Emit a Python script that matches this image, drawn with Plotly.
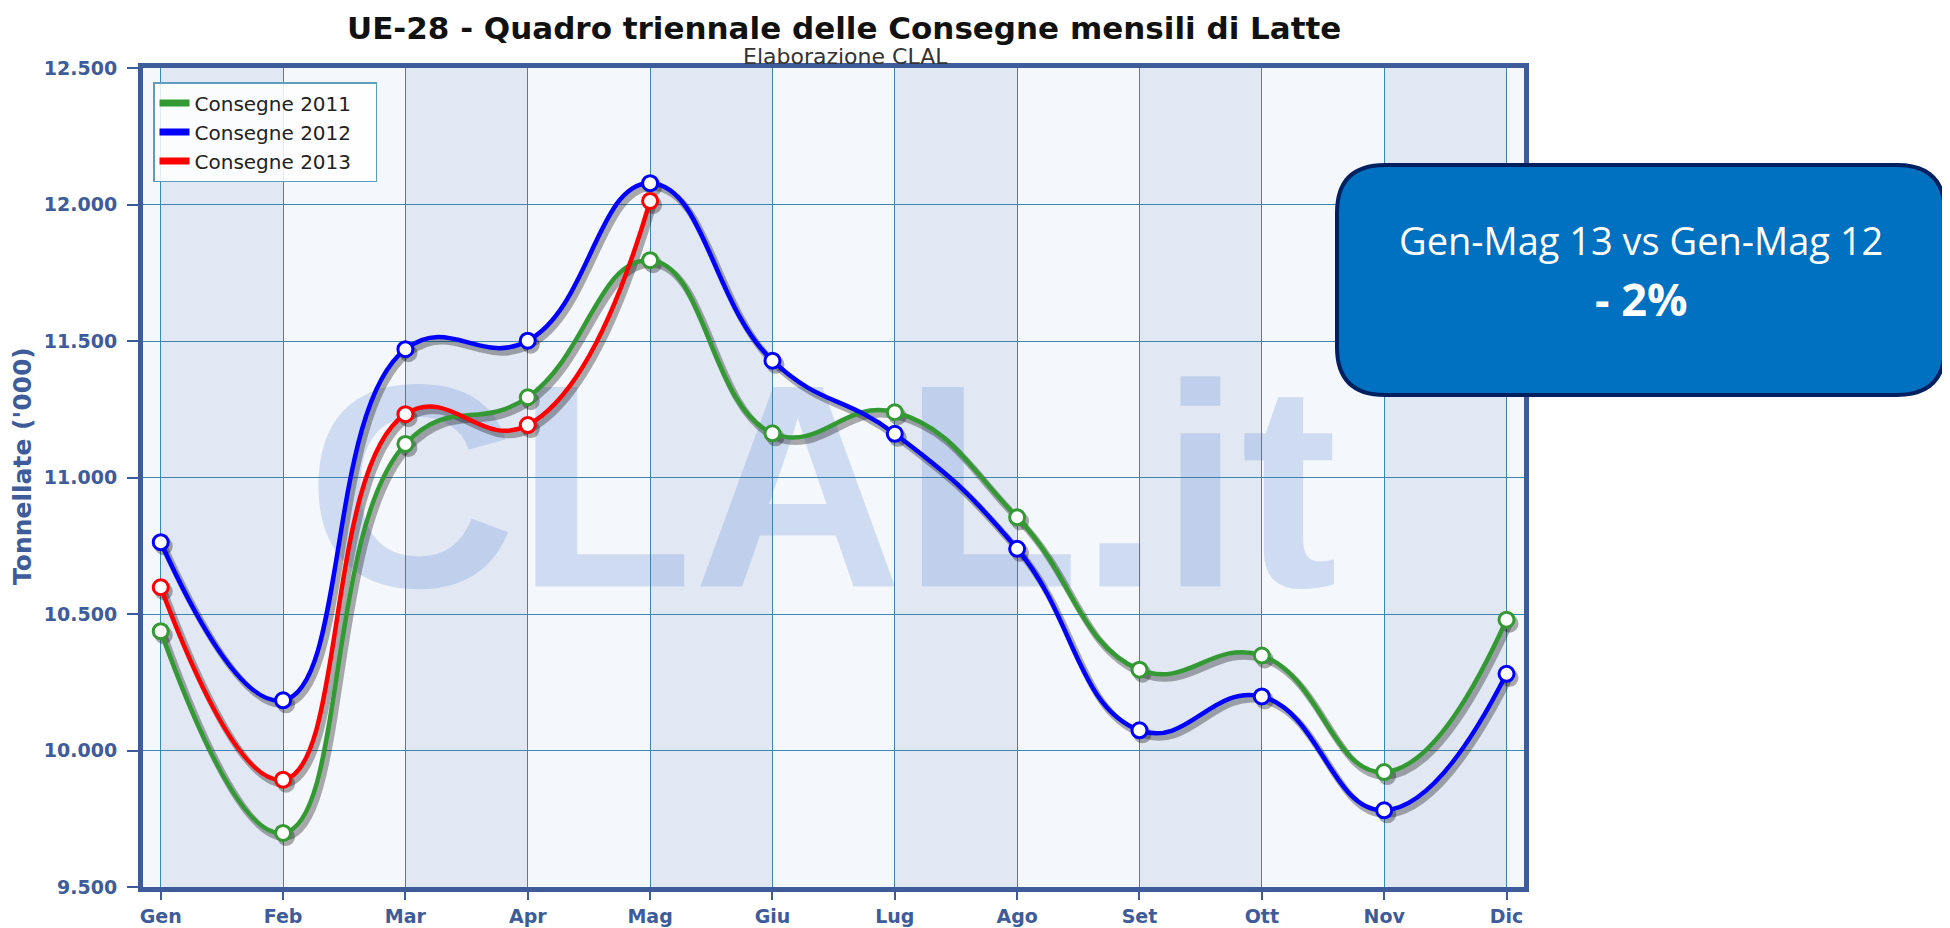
import plotly.graph_objects as go

# ---------------- data ----------------
months = ["Gen", "Feb", "Mar", "Apr", "Mag", "Giu", "Lug", "Ago", "Set", "Ott", "Nov", "Dic"]
consegne_2011 = [10437, 9698, 11123, 11294, 11796, 11162, 11239, 10854, 10296, 10348, 9921, 10479]
consegne_2012 = [10763, 10184, 11470, 11501, 12078, 11428, 11160, 10739, 10074, 10198, 9781, 10281]
consegne_2013 = [10598, 9893, 11232, 11192, 12013]
series_names = ["Consegne 2011", "Consegne 2012", "Consegne 2013"]
series_values = [consegne_2011, consegne_2012, consegne_2013]
series_colors = ["#339933", "#0000ff", "#ff0000"]
y_tickvals = [9500, 10000, 10500, 11000, 11500, 12000, 12500]
y_ticktext = ["9.500", "10.000", "10.500", "11.000", "11.500", "12.000", "12.500"]

title_text = "UE-28 - Quadro triennale delle Consegne mensili di Latte"
subtitle_text = "Elaborazione CLAL"
y_title = "Tonnellate ('000)"
box_line1 = "Gen-Mag 13 vs Gen-Mag 12"
box_line2 = "<b>- 2%</b>"

# ---------------- layout geometry ----------------
OFF = 8                      # page body margin of the html page
W, H = 1950 - OFF, 928 - OFF
PLOT_L, PLOT_R, PLOT_T, PLOT_B = 143, 1524, 68, 887   # target pixels on the page
L = PLOT_L - OFF
T = PLOT_T - OFF
R = W - (PLOT_R - OFF)
B = H - (PLOT_B - OFF)
PW, PH = W - L - R, H - T - B
XR = [-0.145, 11.143]
YR = [9500, 12500]

FRAME = "#3d5c99"
GRID = "#3b87ad"
DARK_BAND = "#e1e8f4"
LIGHT_BAND = "#f4f7fc"


def pxx(px):
    """page pixel x -> paper coordinate"""
    return (px - OFF - L) / PW


def pxy(py):
    """page pixel y -> paper coordinate"""
    return (H - B - (py - OFF)) / PH


# shadow offset (pixels) -> shifted axis ranges
SX, SY = 3, 4
dx = SX * (XR[1] - XR[0]) / PW
dy = SY * (YR[1] - YR[0]) / PH
XR2 = [XR[0] - dx, XR[1] - dx]
YR2 = [YR[0] + dy, YR[1] + dy]

SMOOTH = 1.3

fig = go.Figure()

# watermark (base axes, below everything)
fig.add_trace(go.Scatter(
    x=[pxx(822)], y=[pxy(514)], mode="text", text=["CLAL.it"],
    textposition="middle center",
    textfont=dict(family="Liberation Sans, sans-serif",
                  size=290, color="rgba(60,110,200,0.2)", weight="bold"),
    xaxis="x", yaxis="y", hoverinfo="skip", showlegend=False,
))

# shadows
for vals in series_values:
    fig.add_trace(go.Scatter(
        x=months[:len(vals)], y=vals, mode="lines+markers",
        line=dict(color="rgba(20,20,20,0.35)", width=7, shape="spline", smoothing=SMOOTH),
        marker=dict(size=18, color="rgba(20,20,20,0.35)", line=dict(width=0)),
        xaxis="x2", yaxis="y2", hoverinfo="skip", showlegend=False,
    ))

# main series
for name, vals, col in zip(series_names, series_values, series_colors):
    fig.add_trace(go.Scatter(
        x=months[:len(vals)], y=vals, mode="lines+markers", name=name,
        line=dict(color=col, width=4.5, shape="spline", smoothing=SMOOTH),
        marker=dict(size=15, color="white", line=dict(color=col, width=3)),
        xaxis="x3", yaxis="y3", showlegend=False,
    ))

# legend entries (bars)
for name, col in zip(series_names, series_colors):
    fig.add_trace(go.Scatter(
        x=[None], y=[None], mode="lines", name=name + "\u00a0\u00a0\u00a0",
        line=dict(color=col, width=7), xaxis="x3", yaxis="y3", showlegend=True,
    ))

# background bands
for i in range(0, len(months), 2):
    fig.add_shape(type="rect", xref="x3", yref="paper", x0=i, x1=i + 1, y0=0, y1=1,
                  fillcolor=DARK_BAND, line=dict(width=0), layer="below")

# rounded box
bx0, bx1, by0, by1, rr = 1337, 1945, 165, 395, 48


def P(px, py):
    return f"{pxx(px):.5f},{pxy(py):.5f}"


path = (f"M {P(bx0 + rr, by0)} L {P(bx1 - rr, by0)} Q {P(bx1, by0)} {P(bx1, by0 + rr)} "
        f"L {P(bx1, by1 - rr)} Q {P(bx1, by1)} {P(bx1 - rr, by1)} "
        f"L {P(bx0 + rr, by1)} Q {P(bx0, by1)} {P(bx0, by1 - rr)} "
        f"L {P(bx0, by0 + rr)} Q {P(bx0, by0)} {P(bx0 + rr, by0)} Z")
fig.add_shape(type="path", xref="paper", yref="paper", path=path,
              fillcolor="#0070c0", line=dict(color="#002060", width=4), layer="above")

annotations = [
    dict(text=title_text, x=pxx(844), y=pxy(28), xref="paper", yref="paper",
         showarrow=False, xanchor="center", yanchor="middle",
         font=dict(family="DejaVu Sans", size=31, color="#111111", weight="bold")),
    dict(text=subtitle_text, x=pxx(845), y=pxy(56), xref="paper", yref="paper",
         showarrow=False, xanchor="center", yanchor="middle",
         font=dict(family="DejaVu Sans", size=22, color="#333333")),
    dict(text=y_title, x=pxx(22), y=pxy(466), xref="paper", yref="paper",
         showarrow=False, xanchor="center", yanchor="middle", textangle=-90,
         font=dict(family="DejaVu Sans", size=25, color=FRAME, weight="bold")),
    dict(text=box_line1, x=pxx(1641), y=pxy(240), xref="paper", yref="paper",
         showarrow=False, xanchor="center", yanchor="middle",
         font=dict(family="Open Sans", size=38, color="white")),
    dict(text=box_line2, x=pxx(1641), y=pxy(298), xref="paper", yref="paper",
         showarrow=False, xanchor="center", yanchor="middle",
         font=dict(family="Open Sans", size=45, color="white")),
]

tickfont = dict(family="DejaVu Sans", size=19, color=FRAME, weight="bold")

fig.update_layout(
    width=W, height=H,
    margin=dict(l=L, r=R, t=T, b=B, autoexpand=False),
    paper_bgcolor="white", plot_bgcolor=LIGHT_BAND,
    font=dict(family="DejaVu Sans"),
    annotations=annotations,
    showlegend=True,
    legend=dict(x=pxx(153), y=pxy(82), xanchor="left", yanchor="top",
                bgcolor="rgba(255,255,255,0.85)", bordercolor="#5e9dbd", borderwidth=1.5,
                font=dict(family="DejaVu Sans", size=20, color="#222222"),
                itemwidth=30, tracegroupgap=0),
    xaxis=dict(range=[0, 1], visible=False, fixedrange=True),
    yaxis=dict(range=[0, 1], visible=False, fixedrange=True),
    xaxis2=dict(type="category", categoryarray=months, range=XR2, overlaying="x",
                visible=False, fixedrange=True),
    yaxis2=dict(range=YR2, overlaying="y", visible=False, fixedrange=True),
    xaxis3=dict(type="category", categoryarray=months, range=XR, overlaying="x",
                showgrid=True, gridcolor=GRID, gridwidth=1.3,
                ticks="outside", ticklen=8, tickwidth=2, tickcolor=FRAME,
                showline=True, linewidth=5, linecolor=FRAME, mirror=True,
                tickfont=tickfont, ticklabelstandoff=0, zeroline=False, fixedrange=True),
    yaxis3=dict(range=YR, overlaying="y", tickvals=y_tickvals, ticktext=y_ticktext,
                showgrid=True, gridcolor=GRID, gridwidth=1.3,
                ticks="outside", ticklen=11, tickwidth=2, tickcolor=FRAME,
                showline=True, linewidth=5, linecolor=FRAME, mirror=True,
                tickfont=tickfont, ticklabelstandoff=6, zeroline=False, fixedrange=True),
)

fig.write_html("out.html")
